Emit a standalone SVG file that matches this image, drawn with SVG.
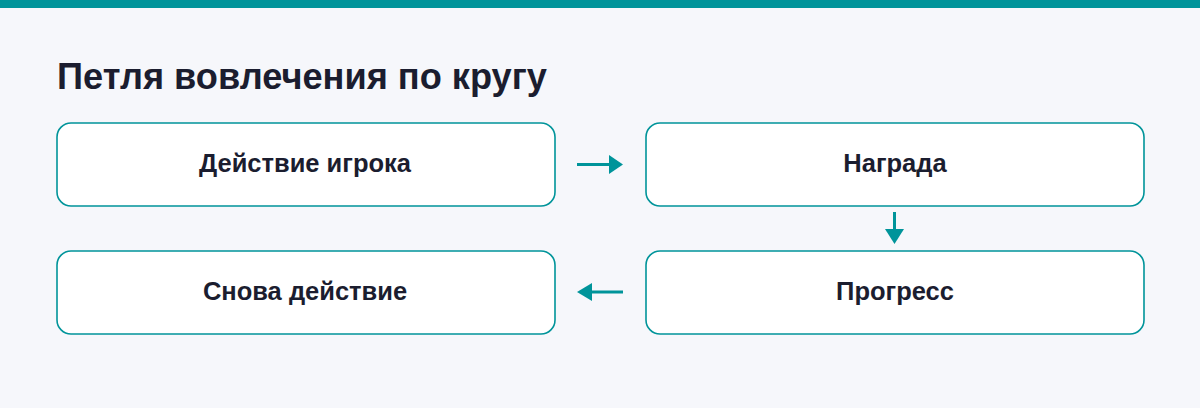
<svg xmlns="http://www.w3.org/2000/svg" width="1200" height="408" viewBox="0 0 1200 408">
<style>
.node{fill:#ffffff;stroke:#00949a;stroke-width:1.6}
.lbl{font-family:"Liberation Sans",Arial,sans-serif;font-weight:bold;font-size:25.5px;fill:#1b1d2f;text-anchor:middle}
.title{font-family:"Liberation Sans",Arial,sans-serif;font-weight:bold;font-size:36.2px;fill:#1b1d2f}
.conn{stroke:#00949a;stroke-width:3;fill:none}
.head{fill:#00949a}
</style>
<rect x="0" y="0" width="1200" height="408" fill="#f6f7fb"/>
<rect x="0" y="0" width="1200" height="8" fill="#00949a"/>
<text class="title" x="57" y="89">Петля вовлечения по кругу</text>
<g id="node-action">
<rect class="node" x="57" y="123" width="498" height="83" rx="14"/>
<text class="lbl" x="305" y="172">Действие игрока</text>
</g>
<g id="node-reward">
<rect class="node" x="646" y="123" width="498" height="83" rx="14"/>
<text class="lbl" x="895" y="172">Награда</text>
</g>
<g id="node-progress">
<rect class="node" x="646" y="251" width="498" height="83" rx="14"/>
<text class="lbl" x="895" y="300">Прогресс</text>
</g>
<g id="node-again">
<rect class="node" x="57" y="251" width="498" height="83" rx="14"/>
<text class="lbl" x="305" y="300">Снова действие</text>
</g>
<g id="connectors">
<line class="conn" x1="577" y1="164.5" x2="610" y2="164.5"/>
<polygon class="head" points="609,155 623,164.5 609,174"/>
<line class="conn" x1="894.5" y1="212" x2="894.5" y2="230"/>
<polygon class="head" points="885,229 904,229 894.5,244"/>
<line class="conn" x1="623" y1="292" x2="590" y2="292"/>
<polygon class="head" points="592,283 577,292 592,301"/>
</g>
</svg>
